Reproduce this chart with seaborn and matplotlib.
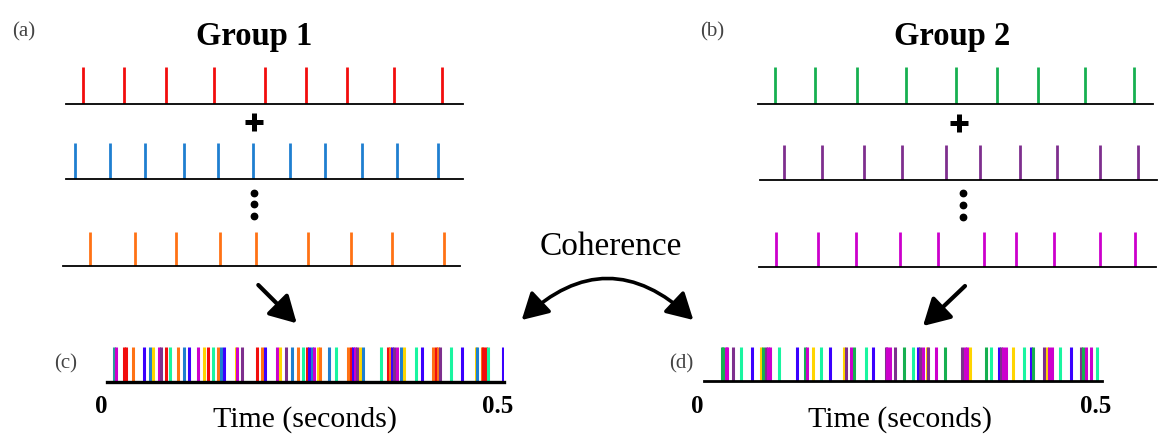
import numpy as np
import pandas as pd
import matplotlib
matplotlib.use("Agg")
import matplotlib.pyplot as plt
from matplotlib.patches import FancyArrowPatch
import seaborn as sns

# ---------------- data (spike times, seconds) ----------------
group1_red = [0.022, 0.073, 0.126, 0.187, 0.251, 0.302, 0.354, 0.413, 0.474]
group1_blue = [0.011, 0.056, 0.099, 0.149, 0.192, 0.236, 0.282, 0.326, 0.373, 0.417, 0.468]
group1_orange = [0.034, 0.091, 0.142, 0.197, 0.243, 0.308, 0.363, 0.414, 0.480]

group2_green = [0.022, 0.072, 0.125, 0.187, 0.251, 0.302, 0.354, 0.414, 0.475]
group2_purple = [0.030, 0.078, 0.131, 0.179, 0.235, 0.277, 0.328, 0.374, 0.429, 0.476]
group2_magenta = [0.021, 0.074, 0.122, 0.177, 0.225, 0.284, 0.324, 0.372, 0.430, 0.473]

pooled_c_times = [0.0079, 0.0113, 0.0205, 0.0230, 0.0319, 0.0457, 0.0538, 0.0576, 0.0646, 0.0680,
                  0.0743, 0.0785, 0.0885, 0.0961, 0.1029, 0.1142, 0.1218, 0.1263, 0.1331, 0.1394,
                  0.1432, 0.1465, 0.1621, 0.1637, 0.1696, 0.1885, 0.1948, 0.1986, 0.2145, 0.2179,
                  0.2254, 0.2334, 0.2406, 0.2472, 0.2515, 0.2548, 0.2578, 0.2611, 0.2661, 0.2683,
                  0.2796, 0.2880, 0.3039, 0.3069, 0.3102, 0.3123, 0.3152, 0.3186, 0.3228, 0.3451,
                  0.3543, 0.3564, 0.3586, 0.3615, 0.3649, 0.3699, 0.3741, 0.3888, 0.3971, 0.4110,
                  0.4144, 0.4169, 0.4194, 0.4332, 0.4467, 0.4644, 0.4660, 0.4719, 0.4739, 0.4770,
                  0.4798, 0.4984]
pooled_c_units = ["teal", "magenta", "red", "red", "orange", "violet", "blue", "yellow", "magenta", "purple",
                  "red", "spring", "orange", "blue", "violet", "magenta", "yellow", "red", "spring", "orange",
                  "blue", "violet", "yellow", "magenta", "purple", "red", "orange", "violet", "magenta", "yellow",
                  "purple", "blue", "orange", "spring", "red", "violet", "blue", "magenta", "yellow", "orange",
                  "blue", "spring", "orange", "red", "violet", "magenta", "purple", "yellow", "blue", "spring",
                  "red", "orange", "violet", "purple", "magenta", "blue", "yellow", "spring", "violet", "orange",
                  "red", "orange", "purple", "spring", "violet", "yellow", "blue", "orange", "red", "red",
                  "spring", "violet"]

pooled_d_times = [0.0223, 0.0243, 0.0277, 0.0293, 0.0361, 0.0469, 0.0607, 0.0717, 0.0738, 0.0776,
                  0.0805, 0.0830, 0.0939, 0.1173, 0.1270, 0.1299, 0.1367, 0.1475, 0.1584, 0.1764,
                  0.1785, 0.1848, 0.1882, 0.2033, 0.2128, 0.2288, 0.2305, 0.2338, 0.2401, 0.2514,
                  0.2624, 0.2694, 0.2716, 0.2757, 0.2807, 0.2820, 0.2913, 0.3030, 0.3247, 0.3281,
                  0.3310, 0.3344, 0.3545, 0.3604, 0.3705, 0.3734, 0.3763, 0.3797, 0.3881, 0.4027,
                  0.4107, 0.4132, 0.4275, 0.4309, 0.4337, 0.4371, 0.4476, 0.4610, 0.4740, 0.4765,
                  0.4803, 0.4865, 0.4937]
pooled_d_units = ["green", "green", "magenta", "magenta", "purple", "spring", "violet", "yellow", "green", "purple",
                  "magenta", "magenta", "spring", "violet", "green", "magenta", "yellow", "spring", "violet", "yellow",
                  "purple", "magenta", "green", "spring", "violet", "purple", "magenta", "magenta", "purple", "green",
                  "spring", "violet", "purple", "magenta", "yellow", "purple", "magenta", "green", "purple", "magenta",
                  "magenta", "yellow", "green", "spring", "violet", "purple", "magenta", "magenta", "yellow", "spring",
                  "violet", "green", "purple", "yellow", "magenta", "magenta", "spring", "violet", "purple", "green",
                  "magenta", "magenta", "spring"]

unit_palette = {"red": "#f20d0d", "blue": "#1f7fd0", "orange": "#ff7215", "green": "#16b050",
                "purple": "#7e2f8e", "magenta": "#cc00cc", "violet": "#3a00ff", "yellow": "#ffd500",
                "spring": "#19f5a0", "teal": "#2a9a9a"}

# ---------------- figure ----------------
sns.set_style("white")
plt.rcParams["font.family"] = ["Liberation Serif", "DejaVu Serif"]
plt.rcParams["text.color"] = "black"

W, H = 1160, 442
fig = plt.figure(figsize=(W / 100, H / 100), dpi=100)

overlay = fig.add_axes([0, 0, 1, 1])
overlay.set_xlim(0, W)
overlay.set_ylim(H, 0)
overlay.axis("off")


def px_axes(x0, x1, ytop, ybase):
    return fig.add_axes([x0 / W, 1 - ybase / H, (x1 - x0) / W, (ybase - ytop) / H])


def spike_train(geom, times, units, spike_lw, base_lw):
    ax = px_axes(*geom)
    df = pd.DataFrame({"t": times, "unit": units})
    sns.rugplot(data=df, x="t", hue="unit", palette=unit_palette, height=1.0,
                linewidth=spike_lw, expand_margins=False, legend=False, ax=ax)
    ax.set_xlim(0, 0.5)
    ax.set_ylim(0, 1)
    ax.set_xticks([])
    ax.set_yticks([])
    ax.set_xlabel("")
    ax.set_ylabel("")
    for s in ["top", "left", "right"]:
        ax.spines[s].set_visible(False)
    ax.spines["bottom"].set_color("black")
    ax.spines["bottom"].set_linewidth(base_lw)
    ax.patch.set_alpha(0)
    return ax


spike_train((66, 463, 67, 104), group1_red, ["red"] * len(group1_red), 2.0, 1.3)
spike_train((66, 463, 143.3, 179.3), group1_blue, ["blue"] * len(group1_blue), 2.0, 1.3)
spike_train((63.3, 460, 232.3, 266), group1_orange, ["orange"] * len(group1_orange), 2.0, 1.3)

spike_train((757.7, 1153.3, 67, 104), group2_green, ["green"] * len(group2_green), 2.0, 1.3)
spike_train((760, 1156.7, 145, 180.3), group2_purple, ["purple"] * len(group2_purple), 2.0, 1.3)
spike_train((759, 1156, 231.7, 267), group2_magenta, ["magenta"] * len(group2_magenta), 2.0, 1.3)

spike_train((107.3, 504, 346.7, 381.7), pooled_c_times, pooled_c_units, 2.2, 2.4)
spike_train((704, 1101.7, 346.7, 380.7), pooled_d_times, pooled_d_units, 2.2, 2.0)

# ---------------- annotations ----------------
label_kw = dict(color="#444444", fontsize=15, ha="center", va="baseline")
overlay.text(23.3, 36, "(a)", **label_kw)
overlay.text(711.7, 36, "(b)", **label_kw)
overlay.text(65.8, 368, "(c)", **label_kw)
overlay.text(681.7, 368, "(d)", **label_kw)

overlay.text(254.5, 45.5, "Group 1", fontsize=23.5, fontweight="bold", color="black",
             ha="center", va="baseline")
overlay.text(952, 45, "Group 2", fontsize=23.5, fontweight="bold", color="black",
             ha="center", va="baseline")
overlay.text(611, 255, "Coherence", fontsize=24, color="black", ha="center", va="baseline")

for x0, x1, xc in [(107.3, 504, 305), (704, 1101.7, 900)]:
    overlay.text(x0 - 6.3, 412.7, "0", fontsize=18, fontweight="bold", color="black",
                 ha="center", va="baseline")
    overlay.text(x1 - 6.5, 412.7, "0.5", fontsize=18, fontweight="bold", color="black",
                 ha="center", va="baseline")
    overlay.text(xc, 427, "Time (seconds)", fontsize=21.5, color="black", ha="center", va="baseline")

# plus signs and ellipsis dots
overlay.plot([254], [121.7], marker="+", ms=13, mew=3.6, color="black", ls="none")
overlay.plot([959.3], [122.7], marker="+", ms=13, mew=3.6, color="black", ls="none")
overlay.plot([254, 254, 254], [192.7, 204.3, 216], "o", ms=4.6, color="black")
overlay.plot([962.7, 962.7, 962.7], [193.3, 205.3, 217], "o", ms=4.6, color="black")

# arrows
arrow_kw = dict(arrowstyle="-|>,head_length=0.8,head_width=0.45", lw=3, color="black",
                mutation_scale=20, shrinkA=0, shrinkB=0)
overlay.annotate("", xy=(296.7, 323.3), xytext=(258.3, 285), arrowprops=arrow_kw)
overlay.annotate("", xy=(923, 326), xytext=(965, 286), arrowprops=arrow_kw)

curve = FancyArrowPatch((521.7, 320), (693.3, 320), connectionstyle="arc3,rad=-0.47",
                        arrowstyle="<|-|>,head_length=0.8,head_width=0.45", mutation_scale=20,
                        lw=2.6, color="black", shrinkA=0, shrinkB=0)
overlay.add_patch(curve)

fig.savefig("out.png", dpi=100)
